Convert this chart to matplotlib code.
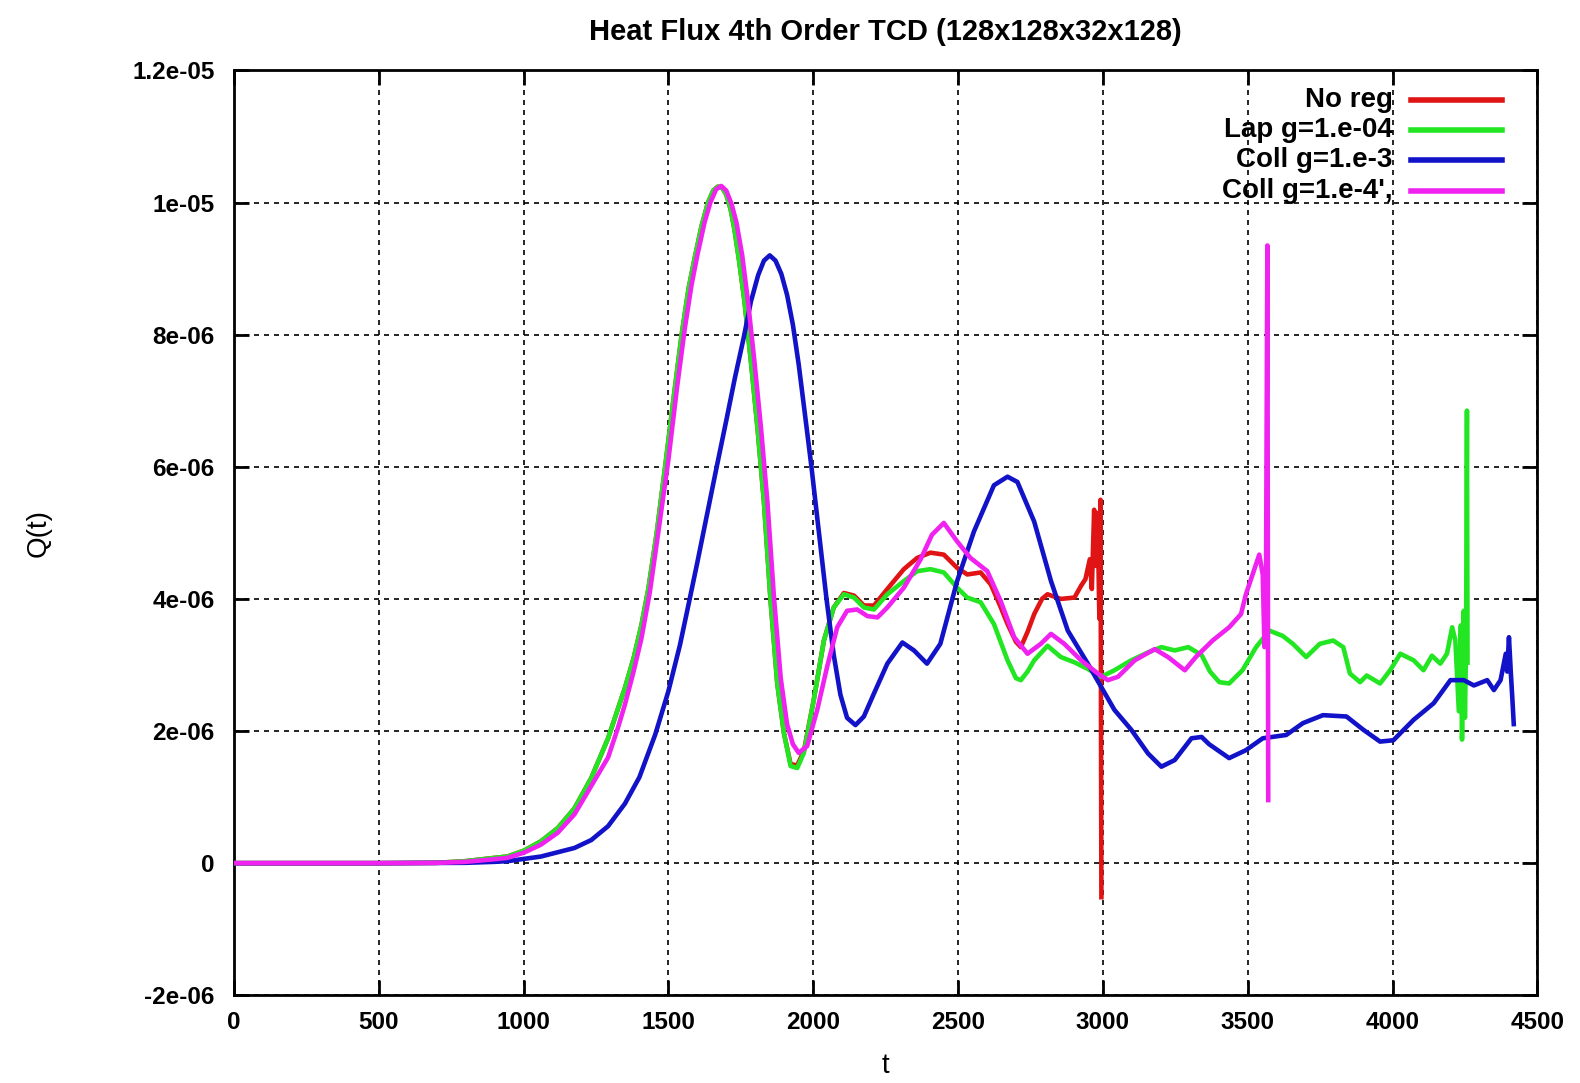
import matplotlib
matplotlib.use("Agg")
import matplotlib.pyplot as plt
from matplotlib.lines import Line2D

plt.rcParams["font.family"] = ["Liberation Sans", "DejaVu Sans"]

# heat flux Q(t), in units of 1e-6
t_noreg = [0, 500, 700, 800, 900, 944, 1002, 1060, 1118, 1176, 1234, 1292, 1350, 1380,
           1407, 1431, 1460, 1489, 1520, 1546, 1570, 1591, 1615, 1637, 1655, 1671, 1685,
           1700, 1715, 1728, 1745, 1763, 1785, 1808, 1830, 1853, 1876, 1899, 1922, 1945,
           1968, 2002, 2037, 2071, 2106, 2141, 2175, 2210, 2256, 2313, 2359, 2405, 2451,
           2497, 2532, 2578, 2613, 2645, 2671, 2700, 2717, 2740, 2763, 2790, 2809, 2855,
           2902, 2925, 2940, 2955, 2962, 2970, 2976, 2982, 2988, 2992, 2995]
q_noreg = [0, 0, 0.005, 0.03, 0.08, 0.1, 0.19, 0.33, 0.53, 0.83, 1.29, 1.89, 2.65, 3.1,
           3.6, 4.15, 5.0, 6.0, 7.1, 8.0, 8.7, 9.16, 9.65, 10.0, 10.18, 10.24, 10.23,
           10.12, 9.9, 9.6, 9.1, 8.5, 7.6, 6.58, 5.47, 3.97, 2.72, 1.97, 1.5, 1.48,
           1.7, 2.47, 3.37, 3.87, 4.09, 4.05, 3.9, 3.9, 4.15, 4.45, 4.62, 4.7, 4.67,
           4.47, 4.37, 4.4, 4.22, 3.9, 3.62, 3.35, 3.27, 3.5, 3.77, 4.0, 4.07, 4.0,
           4.02, 4.2, 4.3, 4.6, 4.15, 5.35, 4.5, 5.3, 3.7, 5.5, -0.55]

t_lap = [0, 500, 700, 800, 900, 944, 1002, 1060, 1118, 1176, 1234, 1292, 1350, 1380,
         1407, 1431, 1460, 1489, 1520, 1546, 1570, 1591, 1615, 1637, 1655, 1671, 1685,
         1700, 1715, 1728, 1745, 1763, 1785, 1808, 1830, 1853, 1876, 1899, 1922, 1945,
         1968, 2002, 2037, 2071, 2106, 2141, 2175, 2210, 2256, 2313, 2359, 2405, 2451,
         2497, 2532, 2578, 2624, 2671, 2700, 2717, 2740, 2763, 2809, 2855, 2902, 2948,
         2994, 3040, 3098, 3156, 3202, 3248, 3295, 3341, 3370, 3402, 3436, 3482, 3529,
         3575, 3621, 3656, 3702, 3749, 3795, 3830, 3853, 3888, 3911, 3957, 3992, 4027,
         4073, 4107, 4136, 4165, 4188, 4206, 4217, 4229, 4236, 4240, 4246, 4250, 4254,
         4257, 4259]
q_lap = [0, 0, 0.005, 0.03, 0.08, 0.1, 0.19, 0.33, 0.53, 0.83, 1.29, 1.89, 2.65, 3.1,
         3.6, 4.15, 5.0, 6.0, 7.1, 8.0, 8.7, 9.16, 9.65, 10.0, 10.18, 10.24, 10.23,
         10.12, 9.9, 9.6, 9.1, 8.5, 7.6, 6.58, 5.47, 3.97, 2.72, 1.97, 1.47, 1.44,
         1.67, 2.47, 3.37, 3.87, 4.07, 4.02, 3.87, 3.84, 4.07, 4.27, 4.42, 4.45, 4.4,
         4.17, 4.02, 3.95, 3.62, 3.07, 2.8, 2.77, 2.9, 3.07, 3.29, 3.12, 3.04, 2.94,
         2.82, 2.92, 3.07, 3.19, 3.27, 3.22, 3.27, 3.15, 2.9, 2.74, 2.72, 2.92, 3.27,
         3.52, 3.44, 3.32, 3.12, 3.32, 3.37, 3.27, 2.87, 2.74, 2.84, 2.72, 2.92, 3.17,
         3.07, 2.92, 3.14, 3.02, 3.17, 3.57, 3.37, 2.3, 3.6, 1.87, 3.82, 2.2, 3.3,
         6.85, 3.0]

t_coll3 = [0, 500, 800, 900, 944, 1060, 1176, 1234, 1292, 1350, 1400, 1455, 1500, 1540,
           1569, 1600, 1630, 1667, 1700, 1730, 1760, 1785, 1810, 1830, 1850, 1870, 1890,
           1910, 1930, 1950, 1970, 1994, 2020, 2046, 2071, 2094, 2117, 2146, 2175, 2210,
           2256, 2308, 2348, 2393, 2439, 2497, 2555, 2624, 2671, 2705, 2763, 2821, 2879,
           2948, 2994, 3040, 3098, 3156, 3202, 3248, 3306, 3341, 3367, 3436, 3494, 3552,
           3633, 3691, 3760, 3841, 3899, 3957, 4003, 4073, 4142, 4200, 4246, 4281, 4327,
           4350, 4373, 4391, 4396, 4402, 4408, 4414, 4419]
q_coll3 = [0, 0, 0.005, 0.02, 0.03, 0.1, 0.23, 0.35, 0.56, 0.9, 1.3, 1.95, 2.6, 3.3,
           3.9, 4.55, 5.2, 6.0, 6.7, 7.35, 7.95, 8.5, 8.9, 9.12, 9.2, 9.12, 8.92,
           8.6, 8.15, 7.55, 6.85, 6.0, 5.0, 4.0, 3.15, 2.55, 2.2, 2.09, 2.22, 2.57,
           3.02, 3.34, 3.22, 3.02, 3.32, 4.27, 5.02, 5.72, 5.85, 5.77, 5.17, 4.27, 3.52,
           3.02, 2.67, 2.32, 2.02, 1.66, 1.46, 1.56, 1.89, 1.91, 1.8, 1.59, 1.71, 1.89,
           1.94, 2.12, 2.24, 2.22, 2.02, 1.84, 1.86, 2.17, 2.42, 2.77, 2.77, 2.69, 2.77,
           2.62, 2.77, 3.17, 2.9, 3.42, 2.92, 2.47, 2.07]

t_coll4 = [0, 500, 700, 800, 900, 944, 1002, 1060, 1118, 1176, 1234, 1292, 1326, 1350,
           1380, 1407, 1436, 1465, 1500, 1530, 1557, 1580, 1600, 1625, 1645, 1665, 1683,
           1700, 1718, 1735, 1755, 1775, 1797, 1820, 1842, 1865, 1888, 1910, 1930, 1950,
           1979, 2014, 2048, 2083, 2117, 2152, 2187, 2222, 2256, 2313, 2371, 2410, 2451,
           2497, 2543, 2601, 2647, 2694, 2740, 2786, 2821, 2867, 2925, 2983, 3017, 3052,
           3110, 3179, 3225, 3283, 3321, 3379, 3436, 3477, 3494, 3517, 3540, 3552, 3558,
           3563, 3568, 3571]
q_coll4 = [0, 0, 0.004, 0.02, 0.06, 0.08, 0.16, 0.28, 0.46, 0.74, 1.17, 1.6, 2.05, 2.4,
           2.9, 3.4, 4.1, 5.0, 6.1, 7.2, 8.1, 8.75, 9.2, 9.7, 10.0, 10.2, 10.25,
           10.18, 9.98, 9.7, 9.2, 8.5, 7.6, 6.58, 5.47, 4.0, 2.8, 2.1, 1.8, 1.67,
           1.77, 2.32, 2.97, 3.57, 3.82, 3.84, 3.74, 3.72, 3.87, 4.17, 4.6, 4.97, 5.15,
           4.87, 4.62, 4.42, 3.97, 3.42, 3.17, 3.32, 3.47, 3.32, 3.07, 2.87, 2.77, 2.82,
           3.07, 3.24, 3.12, 2.92, 3.12, 3.37, 3.57, 3.77, 4.07, 4.37, 4.67, 4.37, 3.27,
           3.9, 9.35, 0.92]

labels = ["No reg", "Lap g=1.e-04", "Coll g=1.e-3", "Coll g=1.e-4',"]
colors = ["#e01414", "#22e622", "#1212c8", "#f022f0"]

x_ticks = [0, 500, 1000, 1500, 2000, 2500, 3000, 3500, 4000, 4500]
y_ticks = [-2e-06, 0, 2e-06, 4e-06, 6e-06, 8e-06, 1e-05, 1.2e-05]
y_ticklabels = ["-2e-06", "0", "2e-06", "4e-06", "6e-06", "8e-06", "1e-05", "1.2e-05"]

fig = plt.figure(figsize=(15.8, 10.83), dpi=100)
ax = fig.add_axes([0.148, 0.081, 0.825, 0.854])

series = [(t_noreg, q_noreg), (t_lap, q_lap), (t_coll3, q_coll3), (t_coll4, q_coll4)]
for (tt, qq), c in zip(series, colors):
    ax.plot(tt, [v * 1e-6 for v in qq], color=c, lw=3.3, solid_joinstyle="round",
            solid_capstyle="butt", zorder=3)

ax.set_xlim(0, 4500)
ax.set_ylim(-2e-06, 1.2e-05)
ax.set_xticks(x_ticks)
ax.set_xticklabels([str(v) for v in x_ticks])
ax.set_yticks(y_ticks)
ax.set_yticklabels(y_ticklabels)

ax.grid(True, color="black", lw=1.2, linestyle=(0, (3, 3)), zorder=1)
ax.tick_params(direction="in", length=11, width=2, top=True, right=True,
               labelsize=17.5, pad=11)
ax.tick_params(axis="y", pad=14)
for lab in ax.get_xticklabels() + ax.get_yticklabels():
    lab.set_fontweight("bold")
for sp in ax.spines.values():
    sp.set_linewidth(2)

ax.set_title("Heat Flux 4th Order TCD (128x128x32x128)", fontsize=21,
             fontweight="bold", pad=22)
ax.set_xlabel("t", fontsize=20)
ax.xaxis.set_label_coords(0.5, -0.062)
ax.set_ylabel("Q(t)", fontsize=20)
ax.yaxis.set_label_coords(-0.140, 0.5)

# gnuplot-style key: right-aligned text followed by the line sample
key_y = [0.968, 0.936, 0.903, 0.870]
for lab, c, yy in zip(labels, colors, key_y):
    ax.text(0.889, yy, lab, transform=ax.transAxes, ha="right", va="center",
            fontsize=20, fontweight="bold", zorder=5)
    ax.add_line(Line2D([0.903, 0.973], [yy, yy], transform=ax.transAxes,
                       color=c, lw=4, zorder=5))

fig.savefig("out.png", dpi=100)
